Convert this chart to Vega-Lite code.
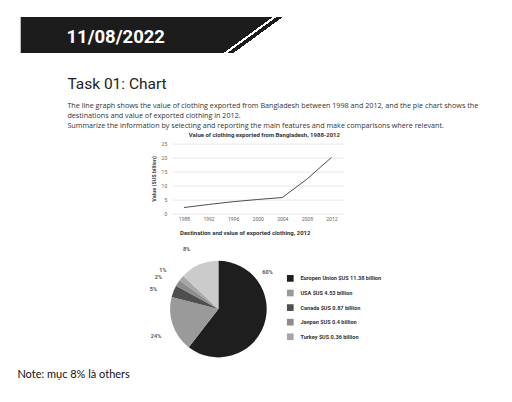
{
  "$schema": "https://vega.github.io/schema/vega-lite/v6.json",
  "background": "white",
  "padding": {"left": 16.7, "top": 17, "right": 5, "bottom": 5},
  "config": {
    "view": {"stroke": null},
    "font": "Roboto",
    "axis": {"labelFont": "Roboto", "titleFont": "Roboto"},
    "text": {"font": "Roboto", "fontSize": 5.5, "fontWeight": "bold", "color": "#555555"}
  },
  "datasets": {
    "exports": [
      {"year": 1988, "value": 2.0},
      {"year": 1992, "value": 3.1},
      {"year": 1996, "value": 4.1},
      {"year": 2000, "value": 4.9},
      {"year": 2004, "value": 5.6},
      {"year": 2008, "value": 12.2},
      {"year": 2012, "value": 20.0}
    ],
    "destinations": [
      {"ord": 1, "dest": "Europen Union $US 11.38 billion", "share": 60.5, "pct": "60%"},
      {"ord": 2, "dest": "USA $US 4.53 billion", "share": 18.5, "pct": "24%"},
      {"ord": 3, "dest": "Canada $US 0.87 billion", "share": 4.0, "pct": "5%"},
      {"ord": 4, "dest": "Janpan $US 0.4 billion", "share": 2.2, "pct": "2%"},
      {"ord": 5, "dest": "Turkey $US 0.36 billion", "share": 1.8, "pct": "1%"},
      {"ord": 6, "dest": "Others", "share": 13.0, "pct": "8%"}
    ]
  },
  "spacing": 1.8,
  "resolve": {"legend": {"color": "independent"}},
  "vconcat": [
    {
      "width": 270,
      "height": 36,
      "data": {"values": [{"date": "11/08/2022"}]},
      "layer": [
        {
          "mark": {
            "type": "rect",
            "color": {
              "gradient": "linear",
              "x1": 0, "y1": 0, "x2": 1, "y2": 0.1823,
              "stops": [
                {"offset": 0, "color": "#1c1c1c"},
                {"offset": 0.9037, "color": "#1c1c1c"},
                {"offset": 0.9037, "color": "#ffffff"},
                {"offset": 0.9168, "color": "#ffffff"},
                {"offset": 0.9168, "color": "#1c1c1c"},
                {"offset": 0.939, "color": "#1c1c1c"},
                {"offset": 0.939, "color": "#ffffff"},
                {"offset": 1, "color": "#ffffff"}
              ]
            }
          },
          "encoding": {}
        },
        {
          "mark": {"type": "text", "color": "#ffffff", "font": "Roboto", "fontWeight": "bold", "fontSize": 18.5, "align": "center", "baseline": "alphabetic", "dx": -40, "dy": 7.7},
          "encoding": {"text": {"field": "date"}}
        }
      ]
    },
    {
      "width": 93.4,
      "height": 1,
      "data": {"values": []},
      "mark": "text",
      "title": {
        "text": "Task 01: Chart",
        "subtitle": [
          "The line graph shows the value of clothing exported from Bangladesh between 1998 and 2012, and the pie chart shows the",
          "destinations and value of exported clothing in 2012.",
          "Summarize the information by selecting and reporting the main features and make comparisons where relevant."
        ],
        "orient": "bottom",
        "anchor": "middle",
        "frame": "group",
        "align": "left",
        "offset": 21.5,
        "font": "Roboto",
        "fontSize": 15.5,
        "fontWeight": "normal",
        "color": "#222222",
        "subtitleFont": "Open Sans",
        "subtitleFontSize": 7.2,
        "subtitleColor": "#333333",
        "subtitleLineHeight": 10.3,
        "subtitlePadding": 8.7
      }
    },
    {
      "spacing": 0,
      "resolve": {"legend": {"color": "independent"}},
      "hconcat": [
        {"width": 129, "height": 1, "data": {"values": []}, "mark": "text"},
        {
          "bounds": "flush",
          "spacing": 47.2,
          "resolve": {"legend": {"color": "independent"}},
          "vconcat": [
            {
              "width": 172,
              "height": 69.5,
              "data": {"name": "exports"},
              "title": {
                "text": "Value of clothing exported from Bangladesh, 1988-2012",
                "anchor": "middle", "frame": "group", "dx": 6.7, "offset": 3.3,
                "font": "Roboto", "fontSize": 6, "fontWeight": "bold", "color": "#333333"
              },
              "mark": {"type": "line", "color": "#3a3a3a", "strokeWidth": 0.9},
              "encoding": {
                "x": {
                  "field": "year", "type": "ordinal",
                  "axis": {"title": null, "labelAngle": 0, "ticks": false, "domain": false, "labelFontSize": 5, "labelColor": "#666666", "labelPadding": 3}
                },
                "y": {
                  "field": "value", "type": "quantitative",
                  "scale": {"domain": [0, 25]},
                  "axis": {
                    "title": "Value ($US billion)",
                    "values": [0, 5, 10, 15, 20, 25],
                    "ticks": false, "domain": false,
                    "gridColor": "#e2e2e2", "gridWidth": 0.8,
                    "labelFontSize": 5, "labelColor": "#666666", "labelPadding": 5,
                    "titleFontSize": 5.5, "titleFontWeight": "bold", "titleColor": "#444444", "titlePadding": 4.5
                  }
                }
              }
            },
            {
              "width": 93.4,
              "height": 96.6,
              "data": {"name": "destinations"},
              "title": {
                "text": "Destination and value of exported clothing, 2012",
                "anchor": "start", "frame": "group", "dx": 8.3, "offset": 10.9,
                "font": "Roboto", "fontSize": 6, "fontWeight": "bold", "color": "#333333"
              },
              "layer": [
                {
                  "mark": {"type": "arc", "outerRadius": 48.3},
                  "encoding": {
                    "theta": {"field": "share", "type": "quantitative", "stack": true},
                    "order": {"field": "ord", "type": "quantitative"},
                    "color": {
                      "field": "dest", "type": "nominal",
                      "scale": {
                        "domain": ["Europen Union $US 11.38 billion", "USA $US 4.53 billion", "Canada $US 0.87 billion", "Janpan $US 0.4 billion", "Turkey $US 0.36 billion", "Others"],
                        "range": ["#1e1e1e", "#9a9a9a", "#4f4f4f", "#8c8c8c", "#a6a6a6", "#cbcbcb"]
                      },
                      "legend": {
                        "title": null,
                        "orient": "right",
                        "values": ["Europen Union $US 11.38 billion", "USA $US 4.53 billion", "Canada $US 0.87 billion", "Janpan $US 0.4 billion", "Turkey $US 0.36 billion"],
                        "symbolType": "square", "symbolSize": 45, "symbolStrokeWidth": 0,
                        "labelFont": "Roboto", "labelFontSize": 5.6, "labelFontWeight": "bold", "labelColor": "#333333",
                        "labelOffset": 6.6, "rowPadding": 6.6, "offset": 7.2, "padding": 14.1, "labelLimit": 400
                      }
                    }
                  }
                },
                {
                  "mark": {"type": "text", "radius": 68, "thetaOffset": -0.08},
                  "encoding": {
                    "theta": {"field": "share", "type": "quantitative", "stack": true},
                    "order": {"field": "ord", "type": "quantitative"},
                    "text": {"condition": {"test": "datum.ord === 1", "value": ""}, "field": "pct"}
                  }
                },
                {
                  "transform": [{"filter": "datum.ord === 1"}],
                  "mark": {"type": "text", "radius": 61.6, "thetaOffset": -2.878},
                  "encoding": {
                    "theta": {"field": "share", "type": "quantitative", "stack": null},
                    "text": {"field": "pct"}
                  }
                }
              ]
            }
          ]
        }
      ]
    },
    {
      "width": 100,
      "height": 1,
      "data": {"values": []},
      "mark": "text",
      "title": {
        "text": "Note: mục 8% là others",
        "orient": "bottom", "anchor": "start", "frame": "group", "dx": -3.3, "offset": 8.7,
        "font": "Lato", "fontSize": 11, "fontWeight": "normal", "color": "#111111"
      }
    }
  ]
}
